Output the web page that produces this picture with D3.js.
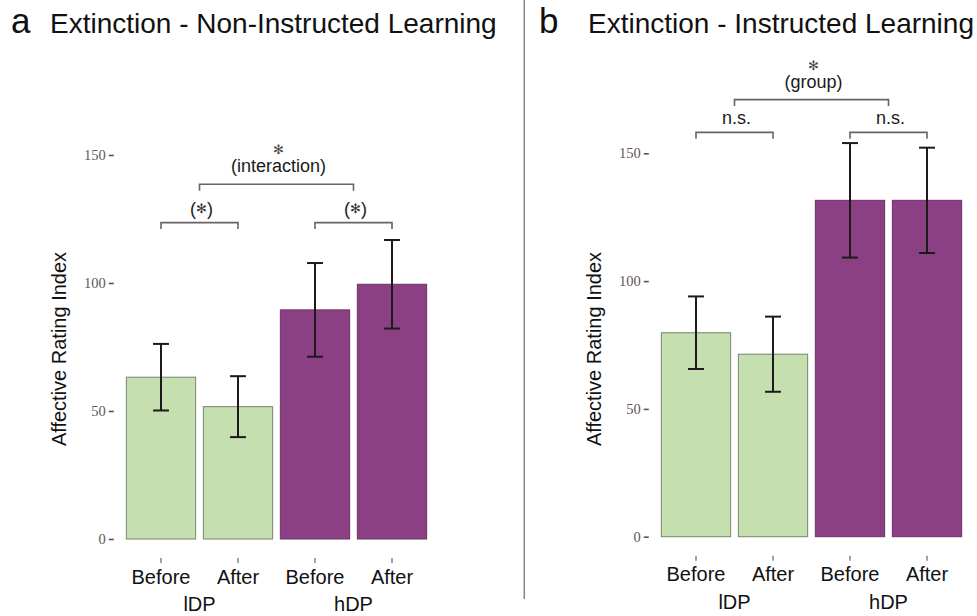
<!DOCTYPE html>
<html>
<head>
<meta charset="utf-8">
<script src="https://cdn.jsdelivr.net/npm/d3@7"></script>
<style>
  body { margin: 0; background: #fff; }
  svg { display: block; }
</style>
</head>
<body>
<svg id="chart" width="977" height="616"></svg>
<script>
// bar labels
const conditions = ["Before", "After", "Before", "After"];
const groups = ["lDP", "hDP"];
const barGroup = [0, 0, 1, 1];
const yTicks = [0, 50, 100, 150];

// panel a: extinction, non-instructed learning
const nonInstructedMeans = [63.2, 51.7, 89.5, 99.5];
const nonInstructedErr = [13.0, 11.9, 18.3, 17.3];
const nonInstructedBrackets = [
  { from: [0], to: [1], y: 123.6, label: "(*)" },
  { from: [2], to: [3], y: 123.6, label: "(*)" },
  { from: [0, 1], to: [2, 3], y: 138.6, label: "(interaction)", star: true }
];

// panel b: extinction, instructed learning
const instructedMeans = [79.8, 71.4, 131.6, 131.6];
const instructedErr = [14.2, 14.7, 22.4, 20.6];
const instructedBrackets = [
  { from: [0], to: [1], y: 158.2, label: "n.s." },
  { from: [2], to: [3], y: 158.2, label: "n.s." },
  { from: [0, 1], to: [2, 3], y: 171.0, label: "(group)", star: true }
];

(function (d3) {
  'use strict';
  const svg = d3.select('#chart');
  const sans = "'Liberation Sans', Arial, Helvetica, sans-serif";
  const serif = "'Liberation Serif', 'Times New Roman', serif";
  const fills = ["#c5dfb1", "#8b4084"];
  const strokes = ["#76866b", "#6e2f68"];

  // divider between panels
  svg.append("line")
    .attr("x1", 524.3).attr("x2", 524.3)
    .attr("y1", 0).attr("y2", 599)
    .attr("stroke", "#8a8486").attr("stroke-width", 1.5);

  const renderPanel = (cfg) => {
    const g = svg.append("g");
    const x = d3.scaleBand()
      .domain(d3.range(conditions.length))
      .range([cfg.left, cfg.right])
      .paddingInner(0.1)
      .paddingOuter(0.15);
    const y = d3.scaleLinear().domain([0, 150]).range([cfg.y0, cfg.y150]);
    const cx = i => x(i) + x.bandwidth() / 2;
    const midOf = arr => d3.mean(arr, cx);

    // title
    g.append("text")
      .attr("x", cfg.letterX).attr("y", 33)
      .attr("font-family", sans).attr("font-size", 35)
      .attr("fill", "#111")
      .text(cfg.letter);
    g.append("text")
      .attr("x", cfg.titleX).attr("y", 33)
      .attr("font-family", sans).attr("font-size", 28)
      .attr("fill", "#111")
      .text(cfg.title);

    // y axis (ticks only, no line)
    const yAxis = g.append("g")
      .attr("transform", "translate(" + cfg.left + ",0)")
      .call(d3.axisLeft(y).tickValues(yTicks).tickSize(5).tickPadding(3));
    yAxis.select(".domain").remove();
    yAxis.selectAll(".tick line")
      .attr("x1", -1).attr("x2", -6)
      .attr("stroke", "#5a5254").attr("stroke-width", 1.6);
    yAxis.selectAll(".tick text")
      .attr("x", -9)
      .attr("font-family", serif).attr("font-size", 14.5)
      .attr("fill", "#5d5557");

    g.append("text")
      .attr("transform", "translate(" + cfg.labelX + "," + 349 + ") rotate(-90)")
      .attr("text-anchor", "middle")
      .attr("font-family", sans).attr("font-size", 20)
      .attr("fill", "#111")
      .text("Affective Rating Index");

    // bars
    g.append("g").selectAll("rect")
      .data(cfg.means)
      .join("rect")
      .attr("x", (d, i) => x(i))
      .attr("width", x.bandwidth())
      .attr("y", d => y(d))
      .attr("height", d => y(0) - y(d))
      .attr("fill", (d, i) => fills[barGroup[i]])
      .attr("stroke", (d, i) => strokes[barGroup[i]])
      .attr("stroke-width", 1);

    // error bars
    const capW = x.bandwidth() * 0.23;
    const err = g.append("g")
      .attr("stroke", "#1e1a1c").attr("stroke-width", 2)
      .selectAll("g")
      .data(cfg.means.map((m, i) => ({ m: m, e: cfg.err[i], i: i })))
      .join("g");
    err.append("line")
      .attr("x1", d => cx(d.i)).attr("x2", d => cx(d.i))
      .attr("y1", d => y(d.m - d.e)).attr("y2", d => y(d.m + d.e));
    err.append("line")
      .attr("x1", d => cx(d.i) - capW / 2).attr("x2", d => cx(d.i) + capW / 2)
      .attr("y1", d => y(d.m + d.e)).attr("y2", d => y(d.m + d.e));
    err.append("line")
      .attr("x1", d => cx(d.i) - capW / 2).attr("x2", d => cx(d.i) + capW / 2)
      .attr("y1", d => y(d.m - d.e)).attr("y2", d => y(d.m - d.e));

    // x ticks and labels
    g.append("g").selectAll("line")
      .data(conditions)
      .join("line")
      .attr("x1", (d, i) => cx(i)).attr("x2", (d, i) => cx(i))
      .attr("y1", cfg.y0 + 19).attr("y2", cfg.y0 + 24)
      .attr("stroke", "#6a6264").attr("stroke-width", 1.2);
    g.append("g").selectAll("text")
      .data(conditions)
      .join("text")
      .attr("x", (d, i) => cx(i))
      .attr("y", cfg.y0 + 44.5)
      .attr("text-anchor", "middle")
      .attr("font-family", sans).attr("font-size", 20)
      .attr("fill", "#111")
      .text(d => d);
    g.append("g").selectAll("text")
      .data(groups)
      .join("text")
      .attr("x", (d, gi) => midOf(d3.range(conditions.length).filter(i => barGroup[i] === gi)))
      .attr("y", cfg.y0 + 72)
      .attr("text-anchor", "middle")
      .attr("font-family", sans).attr("font-size", 20)
      .attr("fill", "#111")
      .text(d => d);

    // significance brackets
    const br = g.append("g").selectAll("g")
      .data(cfg.brackets)
      .join("g");
    br.append("path")
      .attr("d", d => {
        const x1 = midOf(d.from), x2 = midOf(d.to), yy = y(d.y);
        return "M" + x1 + "," + (yy + 6.5) + "V" + yy + "H" + x2 + "V" + (yy + 6.5);
      })
      .attr("fill", "none")
      .attr("stroke", "#6b6264").attr("stroke-width", 1.6);
    const lbl = br.append("text")
      .attr("x", d => (midOf(d.from) + midOf(d.to)) / 2 + 2)
      .attr("y", d => y(d.y) - (d.star ? 12 : 8))
      .attr("text-anchor", "middle")
      .attr("font-family", sans).attr("font-size", 18)
      .attr("fill", "#1a1a1a");
    // split "(*)" so the star sits centred between the parens
    lbl.each(function (d) {
      const t = d3.select(this);
      const parts = d.label.split("*");
      if (parts.length === 1) { t.text(d.label); return; }
      t.append("tspan").text(parts[0]);
      t.append("tspan").attr("font-size", 13).attr("dy", -1.5).attr("fill", "#333").text("✻");
      t.append("tspan").attr("dy", 1.5).text(parts[1]);
    });
    br.filter(d => d.star).append("text")
      .attr("x", d => (midOf(d.from) + midOf(d.to)) / 2 + 2)
      .attr("y", d => y(d.y) - 30)
      .attr("text-anchor", "middle")
      .attr("font-family", sans).attr("font-size", 13)
      .attr("fill", "#4a4446")
      .text("✻");
  };

  renderPanel({
    letter: "a", letterX: 11, titleX: 50,
    title: "Extinction - Non-Instructed Learning",
    left: 114.8, right: 438.2, y0: 539, y150: 155, labelX: 66,
    means: nonInstructedMeans, err: nonInstructedErr, brackets: nonInstructedBrackets
  });
  renderPanel({
    letter: "b", letterX: 539, titleX: 588,
    title: "Extinction - Instructed Learning",
    left: 649.8, right: 973.2, y0: 536.7, y150: 153.3, labelX: 601,
    means: instructedMeans, err: instructedErr, brackets: instructedBrackets
  });
}(d3));
</script>
</body>
</html>
